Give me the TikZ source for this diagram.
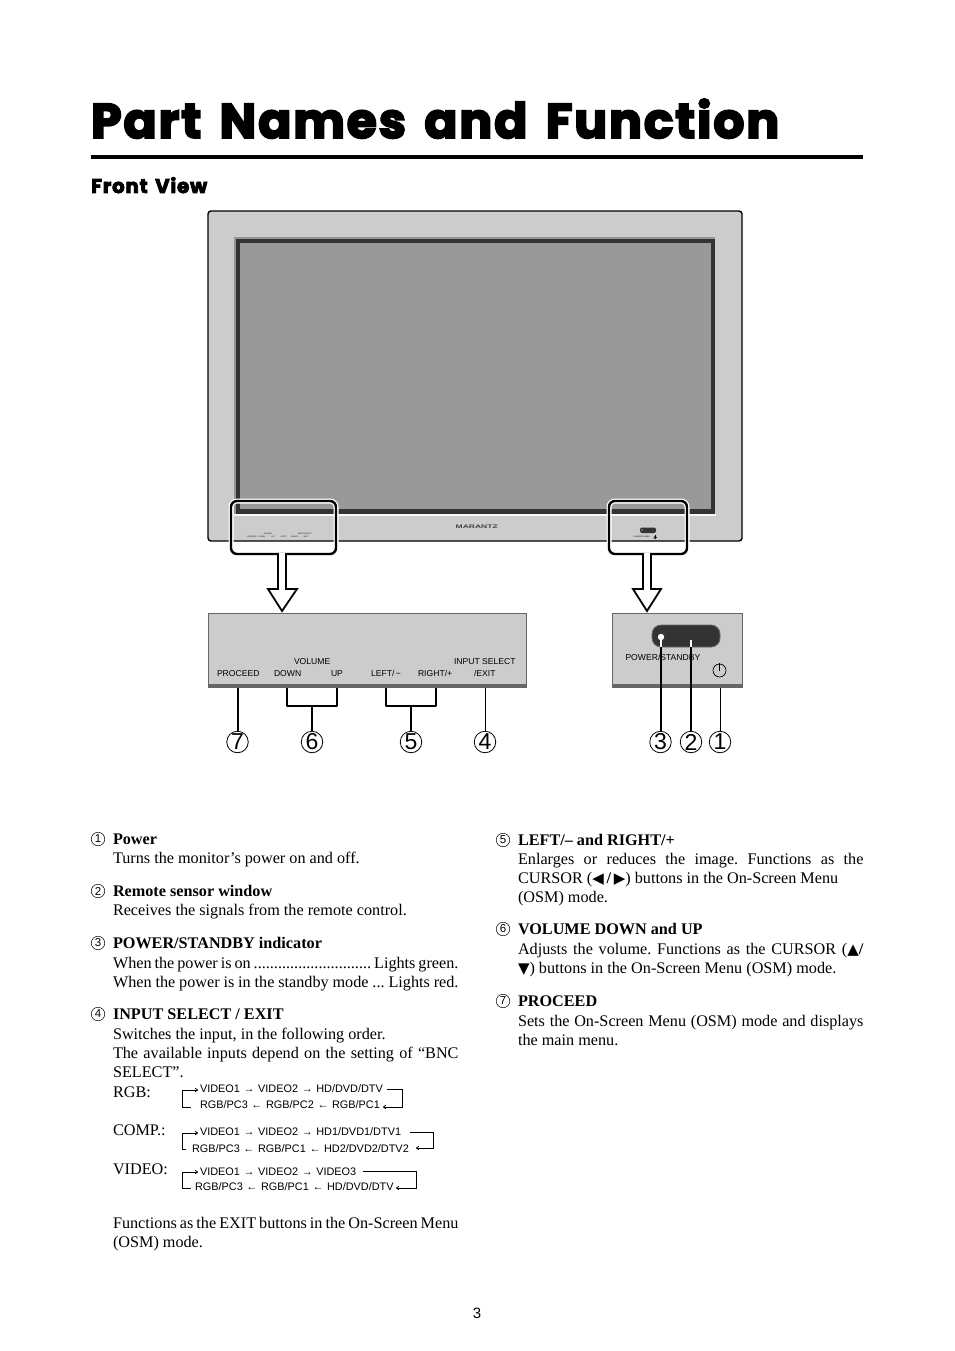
\documentclass[tikz,border=0pt]{standalone}
\usepackage{fontspec}
\setmainfont{Liberation Serif}
\setsansfont{Liberation Sans}
\newfontfamily\heavy[UprightFont=* Bold,FakeBold=4,LetterSpace=4,WordSpace=1.5]{Poppins}
\newfontfamily\symf{DejaVu Sans}
\usetikzlibrary{arrows.meta}
\definecolor{bez}{HTML}{CCCCCC}
\definecolor{scr}{HTML}{999999}
\definecolor{drk}{HTML}{333333}
\definecolor{pedge}{HTML}{666666}
\newcounter{tl}
\newcommand\fs[1]{\fontsize{#1}{#1}\selectfont}
\newcommand\tri[1]{{\symf\fs{15}#1}}
\newcommand\rarr{\,\,→\,\,}
\newcommand\larr{\,\,←\,\,}
\frenchspacing
\tikzset{
  txt/.style={inner sep=0,outer sep=0,anchor=base west,font=\rmfamily\fs{16.2}},
  lab/.style={inner sep=0,outer sep=0,anchor=base west,font=\sffamily\fs{8.6}},
  tiny/.style={inner sep=0,outer sep=0,anchor=base,font=\sffamily\fs{1.9}},
  flow/.style={inner sep=0,outer sep=0,anchor=base west,font=\sffamily\fs{10.9}},
  bignum/.style={circle,draw=black,line width=.8pt,minimum size=21.5pt,inner sep=0,font=\sffamily\fs{23}},
  listnum/.style={circle,draw=black,line width=.5pt,minimum size=13.5pt,inner sep=0,font=\sffamily\fs{11.5}},
  panel/.style={fill=bez,draw=pedge,line width=.8pt},
  lead/.style={draw=black,line width=1.3pt,line join=round},
  callout/.style={draw=black,line width=2.4pt,rounded corners=6pt},
  halo/.style={draw=white,line width=5pt,rounded corners=6pt},
  pointer/.style={draw=black,fill=white,line width=1.8pt,line join=miter},
  looparrow/.style={draw=black,line width=.8pt,-{To[length=3pt,width=4pt]}},
}
\newcommand\tline[3]{\stepcounter{tl}\node[txt,name=line\arabic{tl}] at (#1,#2) {#3};}
\newcommand\jline[3]{\stepcounter{tl}\node[txt,name=line\arabic{tl}] at (#1,#2) {\makebox[345.5pt][s]{#3}};}
\begin{document}
\begin{tikzpicture}[x=1pt,y=-1pt]
\useasboundingbox (0,0) rectangle (954,1351);
\fill[white] (0,0) rectangle (954,1351);
% heading
\node[inner sep=0,anchor=base west,font=\heavy\fs{54}] (title) at (91,138) {\resizebox{688pt}{!}{Part Names and Function}};
\fill[black] (91,155) rectangle (863,159);
\node[inner sep=0,anchor=base west,font=\heavy\fs{20}] (front) at (91,193) {\resizebox{116pt}{!}{Front View}};
% monitor
\draw[fill=bez,draw=black,line width=1.4pt,rounded corners=3pt] (208,211) rectangle (742,541);
\fill[pedge!70] (233.5,236.5) rectangle (715,514);
\fill[drk] (236,238.5) rectangle (715,514);
\fill[scr] (239.5,243) rectangle (710.5,508.5);
\fill[white!85!bez] (234,514) rectangle (716,516);
\node[tiny] (mvol) at (268,534) {VOLUME};
\node[tiny] (minp) at (305,534) {INPUT SELECT};
\node[tiny] (mpro) at (252,537.5) {PROCEED};
\node[tiny] (mdow) at (262,537.5) {DOWN};
\node[tiny] (mup) at (273,537.5) {UP};
\node[tiny] (mlef) at (284,537.5) {LEFT/−};
\node[tiny] (mrig) at (295,537.5) {RIGHT/+};
\node[tiny] (mexi) at (306,537.5) {/EXIT};
\node[inner sep=0,anchor=base west,font=\sffamily\bfseries\fs{5.2},text=black!75] (brand) at (455.5,528) {\resizebox{42pt}{3.5pt}{MARANTZ}};
\fill[drk,rounded corners=2pt] (640,527.5) rectangle (656,533);
\fill[white] (642,530) circle (.7);
\node[tiny] (mpow) at (642,537) {POWER/STANDBY};
\draw[black,line width=.5pt] (655,537.5) circle (1.4);
\draw[black,line width=.5pt] (655,535) -- (655,537.5);
% callouts
\draw[halo] (231,501) rectangle (336,554);
\draw[callout] (231,501) rectangle (336,554);
\draw[pointer] (278,553) -- (278,589) -- (268,589) -- (282,611) -- (297,589) -- (286,589) -- (286,553);
\draw[halo] (609,501) rectangle (687,554);
\draw[callout] (609,501) rectangle (687,554);
\draw[pointer] (643,553) -- (643,589) -- (633,589) -- (647,611) -- (661,589) -- (651,589) -- (651,553);
% left panel
\draw[panel] (208,613) rectangle (526.5,687);
\fill[pedge] (208,684) rectangle (527,687.5);
\node[lab] (pro) at (217,676) {PROCEED};
\node[lab] (dow) at (274,676) {DOWN};
\node[lab] (upl) at (331,676) {UP};
\node[lab] (lef) at (371,676) {LEFT/\,−};
\node[lab] (rig) at (418,676) {RIGHT/+};
\node[lab] (exi) at (474,676) {/EXIT};
\node[lab] (vol) at (294,664) {VOLUME};
\node[lab] (inp) at (454,664) {INPUT SELECT};
% right panel
\draw[panel] (612.5,613) rectangle (742,687);
\fill[pedge] (612,684) rectangle (742.5,687.5);
\draw[fill=drk,draw=pedge,line width=.9pt,rounded corners=9pt] (652,625) rectangle (720,647);
\node[lab] (pow) at (625.5,660) {POWER/STANDBY};
\draw[black,line width=.7pt] (719.5,670.5) circle (6.5);
\draw[black,line width=.7pt] (719.5,662.5) -- (719.5,670.5);
% numbered callouts
\node[bignum] (n7) at (237.5,742) {7};
\node[bignum] (n6) at (312,742) {6};
\node[bignum] (n5) at (411,742) {5};
\node[bignum] (n4) at (485,742) {4};
\node[bignum] (n3) at (660.5,742) {3};
\node[bignum] (n2) at (691,742) {2};
\node[bignum] (n1) at (720,742) {1};
\coordinate (p7) at (238,687.5);
\coordinate (p4) at (485,687.5);
\coordinate (p1) at (720,687.5);
\coordinate (p3) at (661,637);
\coordinate (p2) at (691,640);
\coordinate (q3) at (661,647);
\coordinate (q2) at (691,647);
\draw[lead] (p7) -- (p7 |- n7.north);
\draw[lead,line width=1pt] (p4) -- (n4.north);
\draw[lead,line width=1pt] (p1) -- (n1.north);
\draw[lead] (q3) -- (q3 |- n3.north);
\draw[lead] (q2) -- (q2 |- n2.north);
\draw[draw=white,line width=1.3pt] (p3) -- (q3);
\draw[draw=white,line width=1.3pt] (p2) -- (q2);
\fill[white] (p3) circle (3.2);
\draw[lead] (287,687.5) -- (287,706) -- (337,706) -- (337,687.5);
\draw[lead] (312,706) -- (n6.north);
\draw[lead] (386,687.5) -- (386,706) -- (436,706) -- (436,687.5);
\draw[lead] (411,706) -- (n5.north);
% left column
\node[listnum] (l1) at (98,839) {1};
\tline{113}{844}{\textbf{Power}}
\tline{113}{863}{Turns the monitor’s power on and off.}
\node[listnum] (l2) at (98,891) {2};
\tline{113}{896}{\textbf{Remote sensor window}}
\tline{113}{915}{Receives the signals from the remote control.}
\node[listnum] (l3) at (98,943) {3};
\tline{113}{948}{\textbf{POWER/STANDBY indicator}}
\jline{113}{968}{When the power is on ............................. Lights green.}
\jline{113}{987}{When the power is in the standby mode ... Lights red.}
\node[listnum] (l4) at (98,1014) {4};
\tline{113}{1019}{\textbf{INPUT SELECT / EXIT}}
\tline{113}{1039}{Switches the input, in the following order.}
\jline{113}{1058}{The available inputs depend on the setting of “BNC}
\tline{113}{1077}{SELECT”.}
\tline{113}{1097}{RGB:}
\tline{113}{1135}{COMP.:}
\tline{113}{1174}{VIDEO:}
\jline{113}{1228}{Functions as the EXIT buttons in the On-Screen Menu}
\tline{113}{1247}{(OSM) mode.}
% input flows
\node[flow] (r1) at (200,1092) {VIDEO1\rarr VIDEO2\rarr HD/DVD/DTV};
\node[flow] (r2) at (200,1108.5) {RGB/PC3\larr RGB/PC2\larr RGB/PC1};
\draw[looparrow] (191,1107) -- (182.5,1107) -- (182.5,1090) -- (198,1090);
\draw[looparrow] (387,1089.5) -- (402.5,1089.5) -- (402.5,1107) -- (383,1107);
\node[flow] (c1) at (200,1135.5) {VIDEO1\rarr VIDEO2\rarr HD1/DVD1/DTV1};
\node[flow] (c2) at (192,1152) {RGB/PC3\larr RGB/PC1\larr HD2/DVD2/DTV2};
\draw[looparrow] (186,1149) -- (182.5,1149) -- (182.5,1133) -- (198,1133);
\draw[looparrow] (410,1132.5) -- (433,1132.5) -- (433,1148) -- (416,1148);
\node[flow] (v1) at (200,1175) {VIDEO1\rarr VIDEO2\rarr VIDEO3};
\node[flow] (v2) at (195,1190.5) {RGB/PC3\larr RGB/PC1\larr HD/DVD/DTV};
\draw[looparrow] (190.5,1188) -- (182.5,1188) -- (182.5,1172) -- (198,1172);
\draw[looparrow] (363,1171.5) -- (416,1171.5) -- (416,1188) -- (396,1188);
% right column
\node[listnum] (l5) at (503,840) {5};
\tline{518}{845}{\textbf{LEFT/– and RIGHT/+}}
\jline{518}{864}{Enlarges or reduces the image. Functions as the}
\tline{518}{883}{CURSOR (\tri{◀}\,\textbf{/}\,\tri{▶}) buttons in the On-Screen Menu}
\tline{518}{902}{(OSM) mode.}
\node[listnum] (l6) at (503,929) {6};
\tline{518}{934}{\textbf{VOLUME DOWN and UP}}
\jline{518}{954}{Adjusts the volume. Functions as the CURSOR (\tri{▲}\textbf{/}}
\tline{518}{973}{\tri{▼}) buttons in the On-Screen Menu (OSM) mode.}
\node[listnum] (l7) at (503,1001) {7};
\tline{518}{1006}{\textbf{PROCEED}}
\jline{518}{1026}{Sets the On-Screen Menu (OSM) mode and displays}
\tline{518}{1045}{the main menu.}
\node[inner sep=0,anchor=base,font=\sffamily\fs{15}] (page) at (477,1318) {3};
\end{tikzpicture}
\end{document}
